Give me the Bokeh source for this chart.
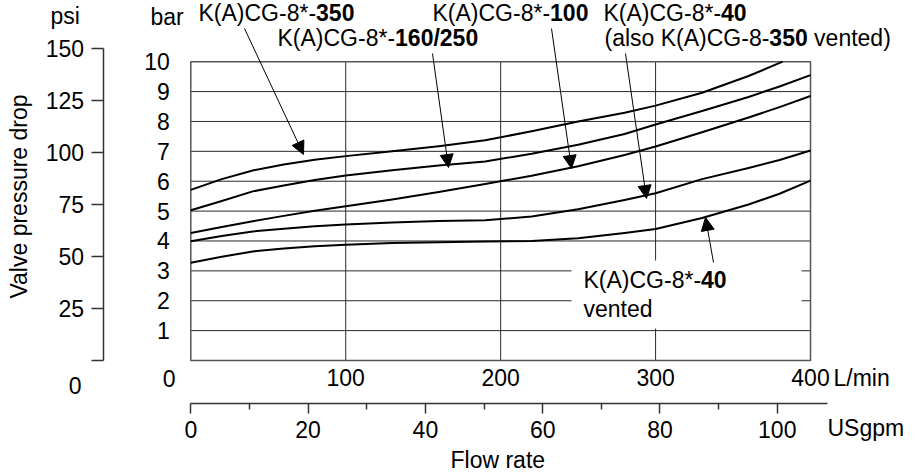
import math
from bokeh.plotting import figure
from bokeh.models import (Range1d, LinearAxis, FixedTicker, Label, Arrow,
                          NormalHead, BoxAnnotation)
from bokeh.embed import file_html
from bokeh.resources import INLINE

# ---------------- data ----------------
flow_350 = [0, 20, 40, 60, 80, 100, 130, 160, 190, 220, 250, 280, 300, 330, 360, 382]
dp_350 = [5.71, 6.07, 6.36, 6.56, 6.72, 6.84, 7.0, 7.17, 7.37, 7.67, 8.0, 8.29, 8.53,
          8.96, 9.52, 10.0]

flow = [0, 20, 40, 60, 80, 100, 130, 160, 190, 220, 250, 280, 300, 330, 360, 380, 400]
dp_160_250 = [5.03, 5.34, 5.66, 5.86, 6.04, 6.19, 6.37, 6.53, 6.66, 6.92, 7.22, 7.58,
              7.90, 8.35, 8.82, 9.17, 9.55]
dp_100 = [4.27, 4.47, 4.66, 4.84, 5.01, 5.16, 5.39, 5.64, 5.91, 6.18, 6.50, 6.88,
          7.16, 7.64, 8.13, 8.48, 8.85]
dp_40 = [3.99, 4.17, 4.32, 4.41, 4.49, 4.55, 4.62, 4.67, 4.69, 4.82, 5.06, 5.37,
         5.60, 6.07, 6.44, 6.71, 7.03]
dp_40_vented = [3.27, 3.47, 3.65, 3.75, 3.82, 3.87, 3.93, 3.96, 3.98, 4.00, 4.09, 4.27,
                4.40, 4.77, 5.22, 5.58, 6.02]

bar_ticks = [1, 2, 3, 4, 5, 6, 7, 8, 9, 10]
bar_grid = [1, 2, 3, 4, 5, 6, 7, 8, 9]
lmin_ticks = [100, 200, 300, 400]
lmin_grid = [100, 200, 300]
psi_ticks = [0, 25, 50, 75, 100, 125, 150]
gpm_ticks = [0, 20, 40, 60, 80, 100]
gpm_minor = [10, 30, 50, 70, 90]
flow_min, flow_max = 0, 400
bar_min, bar_max = 0, 10
psi_min, psi_max = 0, 150
LPM_PER_GPM = 3.785411784

# ---------------- geometry (canvas px -> data) ----------------
W, H = 922, 474
X0, PXL = 190.3, 1.5493      # canvas x of 0 L/min, px per L/min
Y0, PXB = 360.0, 29.88       # canvas y of 0 bar, px per bar
PXP = 2.0773                 # px per psi (psi axis drawn at its own scale)
BASE_FIX = 9                 # renderer places alphabetic baselines ~9px low


def dx(px):
    return (px - X0) / PXL


def dy(py):
    return (Y0 - py) / PXB


FONT = "Liberation Sans"
FS = 23
W_REG = {"K": .667, "(": .333, "A": .667, ")": .333, "C": .722, "G": .778,
         "-": .333, "*": .389, "/": .278, " ": .278, "a": .556, "l": .222,
         "s": .5, "o": .556, "v": .5, "e": .556, "n": .556, "t": .278,
         "d": .556}


def text_w(s):
    return sum(W_REG.get(c, .556) for c in s) * FS


p = figure(width=W, height=H, output_backend="svg", toolbar_location=None,
           x_range=Range1d(dx(0), dx(W)), y_range=Range1d(dy(H), dy(0)),
           x_axis_location=None, y_axis_location=None,
           min_border_left=0, min_border_right=0,
           min_border_top=0, min_border_bottom=0)
p.outline_line_color = None
p.background_fill_color = "white"
p.border_fill_color = "white"
p.grid.visible = False

p.extra_y_ranges = {"psi": Range1d(-(H - Y0) / PXP, Y0 / PXP)}
p.extra_x_ranges = {"gpm": Range1d(dx(0) / LPM_PER_GPM, dx(W) / LPM_PER_GPM)}


def style_labels(ax, standoff):
    ax.major_label_standoff = standoff
    ax.major_label_text_font = FONT
    ax.major_label_text_font_size = f"{FS}px"
    ax.major_label_text_color = "black"


# psi axis (with line and outward ticks)
psi_axis = LinearAxis(y_range_name="psi", ticker=FixedTicker(ticks=psi_ticks),
                      bounds=(psi_min, psi_max), fixed_location=dx(102.5),
                      major_label_overrides={0: ""})
psi_axis.axis_line_color = "#333333"
psi_axis.axis_line_width = 1.5
psi_axis.major_tick_line_color = "#333333"
psi_axis.major_tick_line_width = 1.5
psi_axis.major_tick_out = 12
psi_axis.major_tick_in = 0
psi_axis.minor_tick_line_color = None
style_labels(psi_axis, 7)
p.add_layout(psi_axis, "left")

# bar labels (no line, no ticks) at 0 L/min
bar_axis = LinearAxis(ticker=FixedTicker(ticks=bar_ticks), fixed_location=0)
bar_axis.axis_line_color = None
bar_axis.major_tick_line_color = None
bar_axis.minor_tick_line_color = None
style_labels(bar_axis, 15)
p.add_layout(bar_axis, "left")

# USgpm axis (with line, major and minor ticks)
gpm_axis = LinearAxis(x_range_name="gpm",
                      ticker=FixedTicker(ticks=gpm_ticks, minor_ticks=gpm_minor),
                      bounds=(0, dx(827) / LPM_PER_GPM), fixed_location=dy(403))
gpm_axis.axis_line_color = "#333333"
gpm_axis.axis_line_width = 1.5
gpm_axis.major_tick_line_color = "#333333"
gpm_axis.major_tick_line_width = 1.5
gpm_axis.major_tick_out = 10
gpm_axis.major_tick_in = 0
gpm_axis.minor_tick_line_color = "#333333"
gpm_axis.minor_tick_line_width = 1.5
gpm_axis.minor_tick_out = 6
gpm_axis.minor_tick_in = 0
style_labels(gpm_axis, 7)
p.add_layout(gpm_axis, "below")

# L/min labels (no line, no ticks) at 0 bar
lmin_axis = LinearAxis(ticker=FixedTicker(ticks=lmin_ticks), fixed_location=0)
lmin_axis.axis_line_color = None
lmin_axis.major_tick_line_color = None
lmin_axis.minor_tick_line_color = None
style_labels(lmin_axis, 2)
p.add_layout(lmin_axis, "below")

# grid lines and plot box
p.segment(x0=[flow_min] * len(bar_grid), x1=[flow_max] * len(bar_grid),
          y0=bar_grid, y1=bar_grid, line_color="#2a2a2a", line_width=1)
p.segment(x0=lmin_grid, x1=lmin_grid, y0=[bar_min] * len(lmin_grid),
          y1=[bar_max] * len(lmin_grid), line_color="#2a2a2a", line_width=1)
p.quad(left=[flow_min], right=[flow_max], bottom=[bar_min], top=[bar_max],
       fill_color=None, line_color="#555555", line_width=1.5)

# curves
for xs, ys in [(flow_350, dp_350), (flow, dp_160_250), (flow, dp_100),
               (flow, dp_40), (flow, dp_40_vented)]:
    p.line(xs, ys, line_color="black", line_width=2, line_join="round")

# white box behind the vented label
p.add_layout(BoxAnnotation(left=dx(571), right=dx(801), bottom=dy(328), top=dy(260),
                           fill_color="white", fill_alpha=1.0, line_color=None))

# annotation texts: (x px, baseline px, parts)
notes = [
    (198, 21, [("K(A)CG-8*-", False), ("350", True)]),
    (277, 46, [("K(A)CG-8*-", False), ("160/250", True)]),
    (432, 21, [("K(A)CG-8*-", False), ("100", True)]),
    (603, 21, [("K(A)CG-8*-", False), ("40", True)]),
    (604, 46, [("(also K(A)CG-8-", False), ("350", True), (" vented)", False)]),
    (583, 288, [("K(A)CG-8*-", False), ("40", True)]),
    (583, 317, [("vented", False)]),
    (50, 24, [("psi", False)]),
    (150, 25, [("bar", False)]),
    (833, 386, [("L/min", False)]),
    (827, 436, [("USgpm", False)]),
    (450, 468, [("Flow rate", False)]),
]
for x_px, base_px, parts in notes:
    cur = x_px
    for txt, bold in parts:
        lead = len(txt) - len(txt.lstrip(" "))
        cur += text_w(" " * lead)
        shown = txt.strip(" ")
        p.add_layout(Label(x=dx(cur), y=dy(base_px - BASE_FIX), text=shown,
                           text_font=FONT, text_font_size=f"{FS}px",
                           text_font_style="bold" if bold else "normal",
                           text_color="black", text_baseline="alphabetic",
                           text_align="left"))
        cur += text_w(shown)

# y-axis title
p.add_layout(Label(x=dx(18), y=dy(196), text="Valve pressure drop", angle=math.pi / 2,
                   text_font=FONT, text_font_size=f"{FS}px", text_color="black",
                   text_align="center", text_baseline="middle"))

# displaced zero labels (origin of bar / L/min and of psi)
p.add_layout(Label(x=dx(175), y=dy(387 - BASE_FIX), text="0", text_font=FONT,
                   text_font_size=f"{FS}px", text_align="right",
                   text_baseline="alphabetic", text_color="black"))
p.add_layout(Label(x=dx(81), y=dy(394 - BASE_FIX), text="0", text_font=FONT,
                   text_font_size=f"{FS}px", text_align="right",
                   text_baseline="alphabetic", text_color="black"))

# arrows: (tail px, head px)
arrows = [((244, 28), (303, 154)),
          ((432, 53), (448, 167)),
          ((551, 28), (571, 168)),
          ((625, 53), (646, 198)),
          ((713, 262), (705, 217))]
for (tx, ty), (hx, hy) in arrows:
    p.add_layout(Arrow(x_start=dx(tx), y_start=dy(ty), x_end=dx(hx), y_end=dy(hy),
                       line_color="black", line_width=1,
                       end=NormalHead(size=13, fill_color="black",
                                      line_color="black", line_width=1)))

open("out.html", "w").write(file_html(p, INLINE))
